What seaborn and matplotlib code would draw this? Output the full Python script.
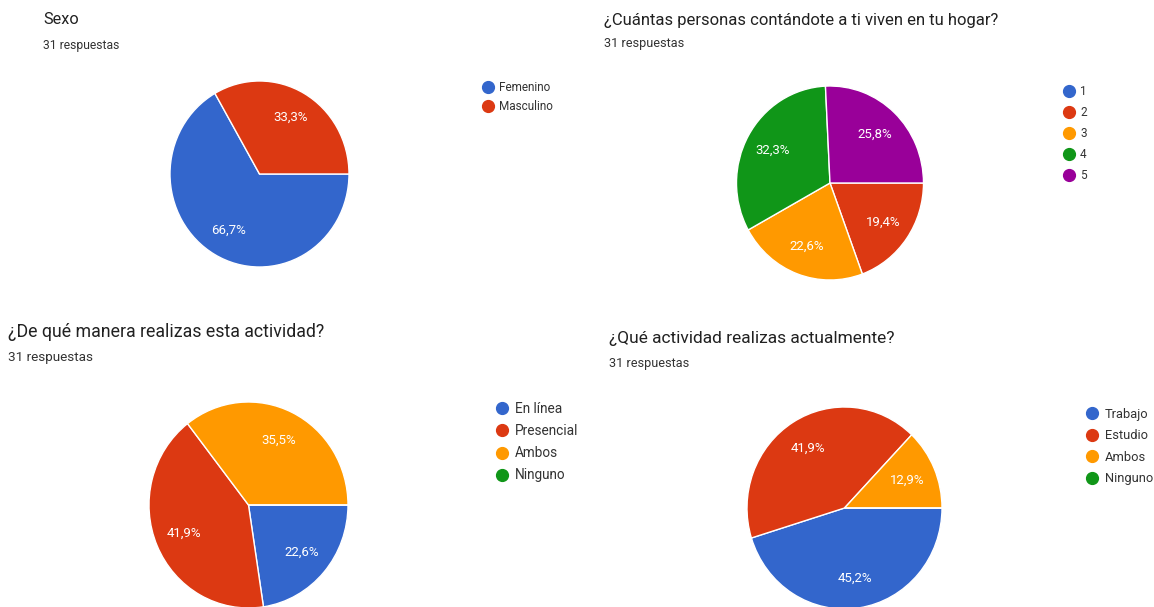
import matplotlib
matplotlib.use("Agg")
import matplotlib.pyplot as plt
from matplotlib.lines import Line2D
import seaborn as sns

sns.set_theme(style="white")
plt.rcParams['font.family'] = ['Roboto', 'DejaVu Sans']

# Survey answers (percent of 31 responses)
sexo_labels = ["Femenino", "Masculino"]
sexo_pct = [66.7, 33.3]

hogar_labels = ["1", "2", "3", "4", "5"]
hogar_pct = [0, 19.4, 22.6, 32.3, 25.8]

manera_labels = ["En línea", "Presencial", "Ambos", "Ninguno"]
manera_pct = [22.6, 41.9, 35.5, 0]

actividad_labels = ["Trabajo", "Estudio", "Ambos", "Ninguno"]
actividad_pct = [45.2, 41.9, 12.9, 0]

titles = ["Sexo",
          "¿Cuántas personas contándote a ti viven en tu hogar?",
          "¿De qué manera realizas esta actividad?",
          "¿Qué actividad realizas actualmente?"]
subtitle = "31 respuestas"

google = ["#3366CC", "#DC3912", "#FF9900", "#109618", "#990099"]

W, H = 1154, 607
fig = plt.figure(figsize=(W / 100, H / 100), dpi=100)
fig.patch.set_facecolor("white")


def pct_fmt(p):
    if p <= 0:
        return ""
    return f"{p:.1f}%".replace(".", ",")


def panel(values, labels, title, cx, cy, rx, ry, tx, ty, sy, tsize, ssize,
          lx, ly, lsize, lspace):
    pad = 1.02
    ax = fig.add_axes([(cx - rx * pad) / W, 1 - (cy + ry * pad) / H,
                       2 * rx * pad / W, 2 * ry * pad / H])
    ax.pie(values, colors=google[:len(values)],
           startangle=0, counterclock=False,
           autopct=pct_fmt, pctdistance=0.7,
           wedgeprops=dict(edgecolor="white", linewidth=1),
           textprops=dict(color="white", fontsize=9.5))
    ax.set_aspect("auto")
    ax.set_xlim(-pad, pad)
    ax.set_ylim(-pad, pad)
    ax.axis("off")

    fig.text(tx / W, 1 - ty / H, title, fontsize=tsize, color="#212121",
             va="center", ha="left")
    fig.text(tx / W, 1 - sy / H, subtitle, fontsize=ssize, color="#333333",
             va="center", ha="left")

    handles = [Line2D([], [], marker="o", linestyle="", markersize=8.5,
                      color=c) for c in google[:len(labels)]]
    ax.legend(handles, labels, loc="upper left",
              bbox_to_anchor=(lx / W, 1 - ly / H), bbox_transform=fig.transFigure,
              frameon=False, fontsize=lsize, labelspacing=lspace,
              handlelength=1.0, handletextpad=0.45, borderpad=0,
              borderaxespad=0, labelcolor="#333333")


panel(sexo_pct, sexo_labels, titles[0], 259.5, 174, 89.5, 93,
      43, 19, 45, 11.7, 8.7, 482, 81, 8.5, 0.53)
panel(hogar_pct, hogar_labels, titles[1], 830, 183, 93.5, 97,
      604, 20, 43, 12, 9.2, 1063, 85, 8.5, 0.67)
panel(manera_pct, manera_labels, titles[2], 248.5, 505, 99.5, 103,
      8, 332, 357, 12.8, 9.7, 495, 402, 9.8, 0.6)
panel(actividad_pct, actividad_labels, titles[3], 844.5, 508, 97.5, 101,
      609, 339, 364, 12.5, 9.2, 1086, 408, 9.3, 0.65)

fig.savefig("out.png", dpi=100, facecolor="white")
